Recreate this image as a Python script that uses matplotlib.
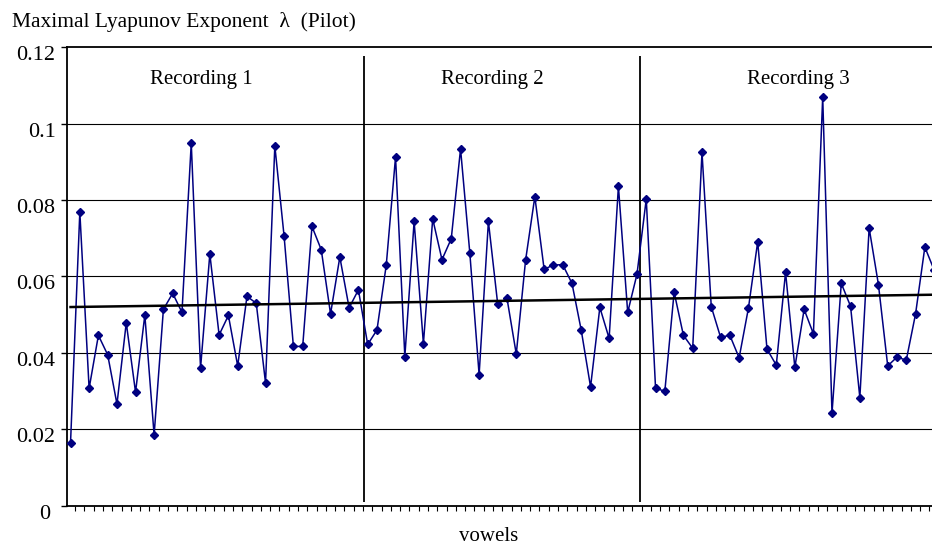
import numpy as np
import matplotlib
matplotlib.use("Agg")
import matplotlib.pyplot as plt
import matplotlib.transforms as mtransforms

plt.rcParams['font.family'] = ['Liberation Serif', 'DejaVu Serif']

# maximal Lyapunov exponent per vowel, three recordings in a row
lyap = [0.0165, 0.0769, 0.0307, 0.0446, 0.0395, 0.0266, 0.0479, 0.0297, 0.0499, 0.0185,
        0.0514, 0.0556, 0.0506, 0.0949, 0.0360, 0.0659, 0.0447, 0.0498, 0.0366, 0.0548,
        0.0530, 0.0321, 0.0942, 0.0705, 0.0417, 0.0417, 0.0731, 0.0670, 0.0502, 0.0651,
        0.0518, 0.0565, 0.0422, 0.0460, 0.0630, 0.0913, 0.0390, 0.0744, 0.0424, 0.0751,
        0.0644, 0.0699, 0.0934, 0.0661, 0.0343, 0.0744, 0.0528, 0.0543, 0.0397, 0.0642,
        0.0809, 0.0619, 0.0630, 0.0631, 0.0582, 0.0459, 0.0311, 0.0519, 0.0438, 0.0836,
        0.0506, 0.0606, 0.0803, 0.0307, 0.0300, 0.0559, 0.0446, 0.0412, 0.0925, 0.0521,
        0.0441, 0.0446, 0.0387, 0.0517, 0.0691, 0.0410, 0.0368, 0.0611, 0.0362, 0.0514,
        0.0450, 0.1070, 0.0242, 0.0582, 0.0522, 0.0283, 0.0727, 0.0579, 0.0366, 0.0389,
        0.0381, 0.0502, 0.0677, 0.0617]
recordings = ['Recording 1', 'Recording 2', 'Recording 3']
rec_label_x = [14.1, 45.4, 78.4]
rec_bounds = [31.6, 61.35]
yticks = [0, 0.02, 0.04, 0.06, 0.08, 0.1, 0.12]
ytick_labels = ['0', '0.02', '0.04', '0.06', '0.08', '0.1', '0.12']

x = np.arange(len(lyap))
y = np.array(lyap)

fig = plt.figure(figsize=(9.32, 5.46), dpi=100)
ax = fig.add_axes([0.0716, 0.0738, 1 - 0.0716, 0.9134 - 0.0738])

for v in yticks[1:-1]:
    ax.axhline(v, color='black', lw=0.8, zorder=1)

# divider lines between recordings
ax.vlines(rec_bounds, 0.0011, 0.1178, color='black', lw=1.3, zorder=2)

ax.plot(x, y, color='#000080', lw=1.1, marker='D', markersize=4.5,
        markerfacecolor='#000080', markeredgecolor='#000080', zorder=3)

# linear trend
k, b = np.polyfit(x, y, 1)
xt = np.array([0, len(lyap) - 1])
ax.plot(xt, k * xt + b, color='black', lw=1.8, zorder=4)

for name, xl in zip(recordings, rec_label_x):
    ax.text(xl, 0.1103, name, ha='center', va='baseline', fontsize=15)

ax.set_yticks(yticks)
ax.set_yticklabels(ytick_labels, fontsize=16)
ax.set_xticks(np.arange(-0.5, len(lyap), 1))
ax.set_xticklabels([])
ax.tick_params(axis='x', direction='out', length=3.5, width=0.8)
ax.tick_params(axis='y', direction='out', length=4, width=1, pad=4)

# set_xticks widens the limits, so fix them afterwards
ax.set_ylim(0, 0.12)
ax.set_xlim(-0.41, 92.77)

offset = mtransforms.ScaledTranslation(0, -6 / 100, fig.dpi_scale_trans)
zero_shift = mtransforms.ScaledTranslation(-5 / 100, 0, fig.dpi_scale_trans)
for i, lab in enumerate(ax.get_yticklabels()):
    tr = lab.get_transform() + offset
    if i == 0:
        tr = tr + zero_shift
    lab.set_transform(tr)

ax.spines['right'].set_visible(False)
for s in ['left', 'top', 'bottom']:
    ax.spines[s].set_linewidth(1.3)

fig.text(12 / 932, 1 - 27 / 546, 'Maximal Lyapunov Exponent  \u03bb  (Pilot)',
         ha='left', va='baseline', fontsize=15.5)
fig.text(489 / 932, 1 - 541 / 546, 'vowels', ha='center', va='baseline', fontsize=15)

fig.savefig('out.png', dpi=100)
